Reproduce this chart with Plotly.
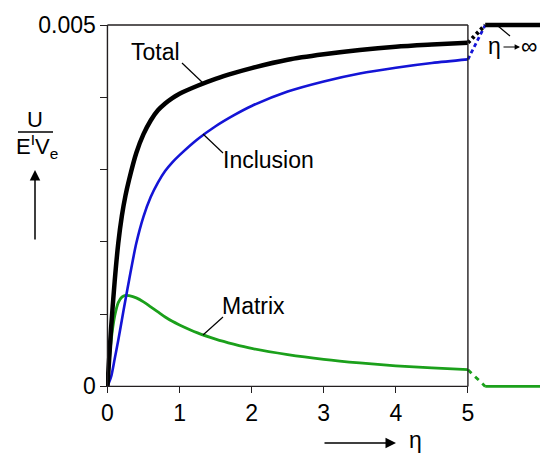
import plotly.graph_objects as go
import numpy as np

# ---------------- data (U in units of 1e-3) ----------------
eta = [0, 0.05, 0.1, 0.15, 0.2, 0.25, 0.3, 0.4, 0.5, 0.6, 0.7, 0.8, 0.9, 1.0,
       1.25, 1.5, 1.75, 2.0, 2.5, 3.0, 3.5, 4.0, 4.5, 5.0]
total_e3 = [0, 0.80, 1.45, 1.98, 2.36, 2.64, 2.86, 3.23, 3.49, 3.68, 3.82, 3.915, 3.99, 4.05,
            4.16, 4.255, 4.335, 4.405, 4.52, 4.595, 4.655, 4.70, 4.73, 4.756]
inclusion_e3 = [0, 0.13, 0.38, 0.64, 0.92, 1.20, 1.47, 1.98, 2.35, 2.62, 2.82, 2.98, 3.10, 3.20,
                3.42, 3.60, 3.75, 3.88, 4.08, 4.22, 4.33, 4.41, 4.475, 4.525]
matrix_e3 = [0, 0.62, 0.97, 1.16, 1.235, 1.26, 1.255, 1.225, 1.17, 1.10, 1.03, 0.96, 0.90, 0.85,
             0.74, 0.655, 0.585, 0.525, 0.44, 0.375, 0.325, 0.285, 0.255, 0.231]
# limits as eta -> infinity (drawn in the strip right of the frame)
eta_inf_start = 5.24
eta_inf_end = 6.0
total_inf = 0.005
inclusion_inf = 0.005
matrix_inf = 0.0
x_ticks = [0, 1, 2, 3, 4, 5]
y_ticks = [0, 0.001, 0.002, 0.003, 0.004, 0.005]
y_ticktext = ["0", "", "", "", "", "0.005"]

total = np.array(total_e3) * 1e-3
inclusion = np.array(inclusion_e3) * 1e-3
matrix = np.array(matrix_e3) * 1e-3

# ---------------- layout geometry ----------------
W, H = 540, 453
L, R, T, B = 106, 0, 7, 63
X0, X1 = -0.02, 6.0
Y0, Y1 = -0.05e-3, 5.25e-3
FONT = "Liberation Sans, Arial, Helvetica, sans-serif"
FRAME = "#231f20"
BLACK = "#000000"
BLUE = "#1414d6"
GREEN = "#1ba01b"
FS = 23


def pxx(xp):
    return (xp - L) / (W - L - R)


def pxy(yp):
    return (H - B - yp) / (H - T - B)


fig = go.Figure()

# main curves
fig.add_trace(go.Scatter(x=eta, y=matrix, mode="lines",
                         line=dict(color=GREEN, width=2.8, shape="spline", smoothing=0.8)))
fig.add_trace(go.Scatter(x=eta, y=inclusion, mode="lines",
                         line=dict(color=BLUE, width=2.6, shape="spline", smoothing=0.8)))
fig.add_trace(go.Scatter(x=eta, y=total, mode="lines",
                         line=dict(color=BLACK, width=4.5, shape="spline", smoothing=0.8)))

# eta -> infinity extensions
fig.add_trace(go.Scatter(x=[eta[-1], eta_inf_start], y=[matrix[-1], matrix_inf], mode="lines",
                         line=dict(color=GREEN, width=2.8, dash="5px,5px")))
fig.add_trace(go.Scatter(x=[eta_inf_start, eta_inf_end], y=[matrix_inf, matrix_inf], mode="lines",
                         line=dict(color=GREEN, width=2.8)))
fig.add_trace(go.Scatter(x=[eta[-1], eta_inf_start], y=[inclusion[-1], inclusion_inf], mode="lines",
                         line=dict(color=BLUE, width=2.8, dash="4px,3px")))
fig.add_trace(go.Scatter(x=[eta[-1], eta_inf_start], y=[total[-1], total_inf], mode="lines",
                         line=dict(color=BLACK, width=4, dash="3px,3px")))
fig.add_trace(go.Scatter(x=[eta_inf_start, eta_inf_end], y=[total_inf, total_inf], mode="lines",
                         line=dict(color=BLACK, width=4.5)))

shapes = []
# frame
for (xa, ya, xb, yb) in [(0, 0, 5, 0), (0, 0.005, 5, 0.005), (0, 0, 0, 0.005), (5, 0, 5, 0.005)]:
    shapes.append(dict(type="line", xref="x", yref="y", x0=xa, y0=ya, x1=xb, y1=yb,
                       line=dict(color=FRAME, width=1.4), layer="above"))


def pline(xa, ya, xb, yb, w=1.2):
    shapes.append(dict(type="line", xref="paper", yref="paper",
                       x0=pxx(xa), y0=pxy(ya), x1=pxx(xb), y1=pxy(yb),
                       line=dict(color=BLACK, width=w)))


# leader lines
pline(182, 63, 203, 83)
pline(203, 134, 223, 153)
pline(203, 335, 223, 317)
pline(498, 26, 510, 36)
# fraction bar
pline(18, 132, 53, 132, 1.4)

annotations = []


def ptext(txt, xp, yp, xanchor="left", size=FS):
    annotations.append(dict(text=txt, xref="paper", yref="paper", x=pxx(xp), y=pxy(yp),
                            xanchor=xanchor, yanchor="middle", showarrow=False,
                            font=dict(family=FONT, size=size, color=BLACK)))


def parrow(x_tip, y_tip, ax, ay, size=1.4, width=1.5):
    annotations.append(dict(text="", xref="paper", yref="paper", x=pxx(x_tip), y=pxy(y_tip),
                            ax=ax, ay=ay, showarrow=True, arrowhead=2, arrowsize=size,
                            arrowwidth=width, arrowcolor=BLACK))


ptext("Total", 129, 52)
ptext("Inclusion", 221, 160)
ptext("Matrix", 220, 306)
ptext("η", 486, 46, size=FS)
ptext("∞", 519, 46, size=FS)
ptext("U", 35, 119, xanchor="center", size=22)
ptext("E<sup>I</sup>V<sub>e</sub>", 37, 146, xanchor="center", size=22)
ptext("η", 415, 440, xanchor="center", size=FS)

# arrows
parrow(35, 170, 0, 71)
parrow(396, 443, -73, 0)
parrow(520, 47, -18, 0, size=0.9, width=1.2)

fig.update_layout(
    width=W, height=H,
    margin=dict(l=L, r=R, t=T, b=B, pad=0, autoexpand=False),
    paper_bgcolor="white", plot_bgcolor="white",
    showlegend=False,
    shapes=shapes, annotations=annotations,
    font=dict(family=FONT, size=FS, color=BLACK),
    xaxis=dict(range=[X0, X1], showgrid=False, zeroline=False, showline=False,
               tickvals=x_ticks, ticktext=[str(v) for v in x_ticks],
               ticks="outside", ticklen=6, tickwidth=1.4, tickcolor=FRAME,
               anchor="free", position=(0 - Y0) / (Y1 - Y0), automargin=False,
               tickfont=dict(family=FONT, size=FS, color=BLACK)),
    yaxis=dict(range=[Y0, Y1], showgrid=False, zeroline=False, showline=False,
               tickvals=y_ticks, ticktext=y_ticktext,
               ticks="outside", ticklen=7, tickwidth=1.4, tickcolor=FRAME,
               anchor="free", position=(0 - X0) / (X1 - X0), automargin=False,
               tickfont=dict(family=FONT, size=FS, color=BLACK)),
)

fig.write_html("out.html", config={"displayModeBar": False},
               post_script="document.body.style.margin='0';document.body.style.overflow='hidden';")
